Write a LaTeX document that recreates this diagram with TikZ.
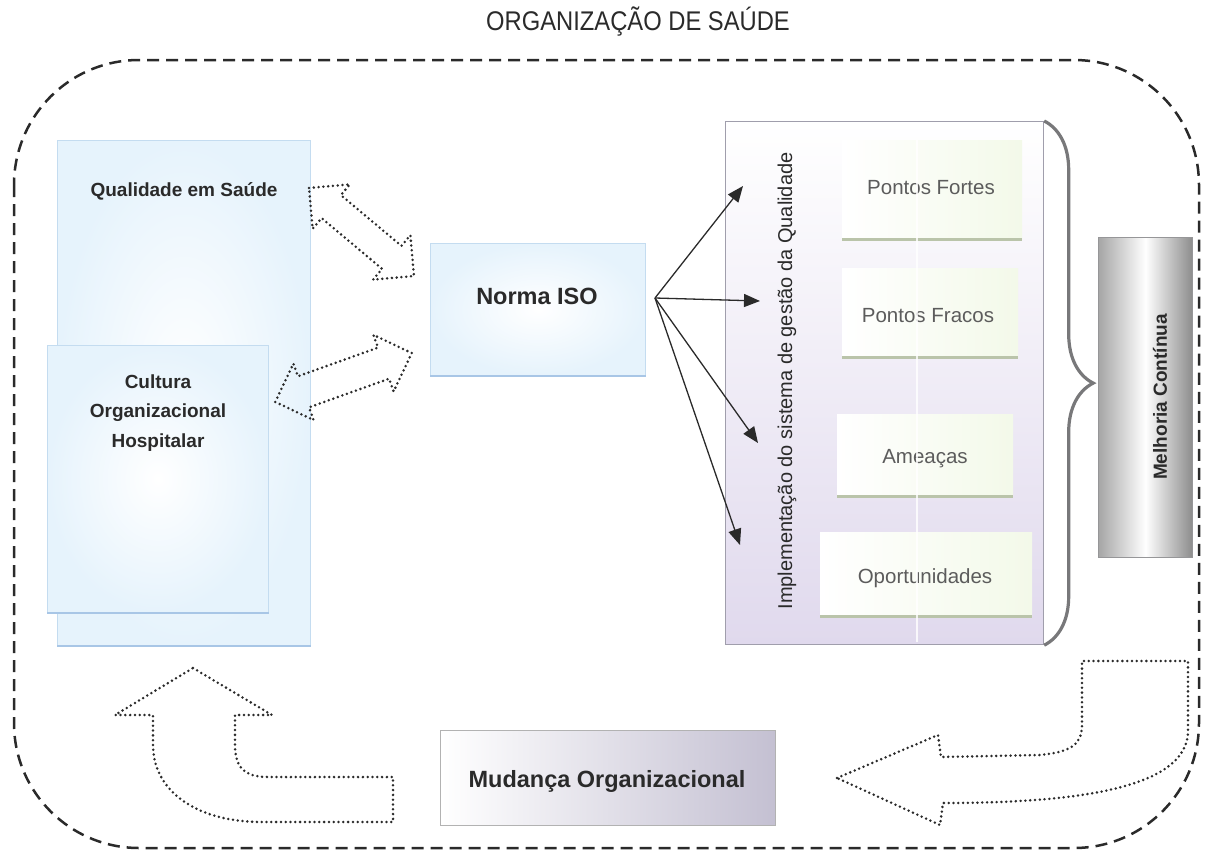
\documentclass[tikz,border=0pt]{standalone}
\usepackage{fontspec}
\setmainfont{Liberation Sans}
\newfontfamily\narrowsans[FakeStretch=0.88]{Liberation Sans}
\usetikzlibrary{arrows.meta,decorations.pathreplacing}

\definecolor{inkgray}{HTML}{2A2A2A}
\definecolor{labelgray}{HTML}{5C5C5C}
\definecolor{bluefade}{RGB}{230,243,252}
\definecolor{blueedge}{RGB}{196,220,240}
\definecolor{blueshadow}{RGB}{168,198,230}
\definecolor{lavender}{RGB}{224,217,237}
\definecolor{frameedge}{RGB}{160,158,172}
\definecolor{greenfade}{RGB}{243,249,233}
\definecolor{greenshadow}{RGB}{186,196,170}
\definecolor{steel}{RGB}{150,150,152}
\definecolor{mauve}{RGB}{196,192,210}

\begin{document}
\begin{tikzpicture}[x=1pt,y=-1pt,
  frame/.style={draw=inkgray, line width=2.5pt, dash pattern=on 12pt off 7pt, rounded corners=125pt},
  dotline/.style={draw=inkgray, line width=2.8pt, line cap=round, line join=round, dash pattern=on 0pt off 4.8pt},
  bluebox/.style={draw=blueedge, line width=0.8pt, shading=radial, inner color=white, outer color=bluefade, anchor=north west, inner sep=0pt},
  swotbox/.style={left color=white, right color=greenfade, anchor=north west, inner sep=0pt},
  boxtitle/.style={text=inkgray, font=\bfseries\fontsize{19}{29.5}\selectfont, align=center},
  bigtitle/.style={text=inkgray, font=\bfseries\fontsize{23.5}{28}\selectfont},
  swotlabel/.style={text=labelgray, font=\fontsize{20.5}{24}\selectfont},
  fan/.style={draw=inkgray, line width=1.3pt, -{Triangle[length=16pt,width=13pt]}},
  pics/twohead/.style n args={3}{code={
    \draw[dotline] (-#1/2,0) -- (-#1/2+#2/2,-#2/2) -- (-#1/2+#2/2,-#3/2)
      -- (#1/2-#2/2,-#3/2) -- (#1/2-#2/2,-#2/2) -- (#1/2,0)
      -- (#1/2-#2/2,#2/2) -- (#1/2-#2/2,#3/2) -- (-#1/2+#2/2,#3/2)
      -- (-#1/2+#2/2,#2/2) -- cycle;
  }}
]
\useasboundingbox (0,0) rectangle (1208,854);

% title and dashed organisation frame
\node[text=inkgray, font=\narrowsans\fontsize{27}{31}\selectfont] (title) at (638,22) {ORGANIZAÇÃO DE SAÚDE};
\draw[frame] (14,60) rectangle (1199,848);

% left column
\node[bluebox, minimum width=253pt, minimum height=505pt] (qual) at (57,140) {};
\draw[blueshadow, line width=2.5pt] (qual.south west) -- (qual.south east);
\node[boxtitle] (qualtxt) at (184,191) {Qualidade em Saúde};

\node[bluebox, minimum width=221pt, minimum height=267pt] (cult) at (47,345) {};
\draw[blueshadow, line width=2.5pt] (cult.south west) -- (cult.south east);
\node[boxtitle] (culttxt) at (158,413) {Cultura\\Organizacional\\Hospitalar};

% ISO standard
\node[bluebox, minimum width=215pt, minimum height=132pt] (iso) at (430,243) {};
\draw[blueshadow, line width=2.5pt] (iso.south west) -- (iso.south east);
\node[bigtitle] (isotxt) at (537,296) {Norma ISO};

% two-way exchanges with the ISO standard
\pic[rotate=-40] (qualiso) at (361.5,232) {twohead={137}{58}{30}};
\pic[rotate=19.7] (cultiso) at (343.5,377.5) {twohead={145}{60}{33}};

% quality management system implementation
\node[draw=frameedge, line width=1.2pt, top color=white, bottom color=lavender,
      anchor=north west, minimum width=318pt, minimum height=523pt, inner sep=0pt] (impl) at (725,121) {};
\node[rotate=90, text=inkgray, font=\fontsize{20}{24}\selectfont] (impltxt) at (787,381)
  {Implementação do sistema de gestão da Qualidade};

\node[swotbox, minimum width=180pt, minimum height=99pt] (fortes) at (842,140) {};
\draw[greenshadow, line width=2.5pt] (fortes.south west) -- (fortes.south east);
\node[swotlabel] (fortestxt) at (931,188) {Pontos Fortes};

\node[swotbox, minimum width=176pt, minimum height=89pt] (fracos) at (842,268) {};
\draw[greenshadow, line width=2.5pt] (fracos.south west) -- (fracos.south east);
\node[swotlabel] (fracostxt) at (928,316) {Pontos Fracos};

\node[swotbox, minimum width=176pt, minimum height=82pt] (ameacas) at (837,414) {};
\draw[greenshadow, line width=2.5pt] (ameacas.south west) -- (ameacas.south east);
\node[swotlabel] (ameacastxt) at (925,459) {Ameaças};

\node[swotbox, minimum width=212pt, minimum height=84pt] (oport) at (820,532) {};
\draw[greenshadow, line width=2.5pt] (oport.south west) -- (oport.south east);
\node[swotlabel] (oporttxt) at (925,578) {Oportunidades};

\draw[white, opacity=0.8, line width=1.2pt] (917,122) -- (917,642);

% fan of arrows from the ISO standard
\coordinate (fanorigin) at (655,298);
\coordinate (tipfortes) at (743,186);
\coordinate (tipfracos) at (760,301);
\coordinate (tipameacas) at (758,443);
\coordinate (tipoport) at (740,545);
\draw[fan] (fanorigin) -- (tipfortes);
\draw[fan] (fanorigin) -- (tipfracos);
\draw[fan] (fanorigin) -- (tipameacas);
\draw[fan] (fanorigin) -- (tipoport);

% brace and continuous improvement
\draw[draw=steel!80!black, line width=3.2pt, decorate, decoration={brace, amplitude=49pt}]
  (impl.north east) -- (impl.south east);
\node[draw=steel, line width=1pt, left color=black!35, right color=black!45, middle color=white,
      anchor=north west, minimum width=94pt, minimum height=320pt, inner sep=0pt] (melh) at (1098,237) {};
\node[rotate=90, boxtitle] (melhtxt) at (1160,397) {Melhoria Contínua};

% organisational change
\node[draw=black!30, line width=1pt, left color=white, right color=mauve,
      anchor=north west, minimum width=335pt, minimum height=95pt, inner sep=0pt] (mud) at (440,730) {};
\node[bigtitle] (mudtxt) at (607,781) {Mudança Organizacional};

% bent return arrows
\draw[dotline] (193,668) -- (272,715) -- (235,715) -- (235,745)
  .. controls (235,768) and (245,777) .. (268,777) -- (393,777) -- (393,822) -- (262,822)
  .. controls (195,822) and (153,790) .. (153,745) -- (153,715) -- (115,715) -- cycle;

\draw[dotline] (837,778) -- (938,735) -- (941,757) -- (1040,755)
  .. controls (1070,752) and (1082,745) .. (1082,725) -- (1082,661) -- (1188,661) -- (1188,733)
  .. controls (1185,785) and (1090,803) .. (943,803) -- (940,825) -- cycle;
\end{tikzpicture}
\end{document}
